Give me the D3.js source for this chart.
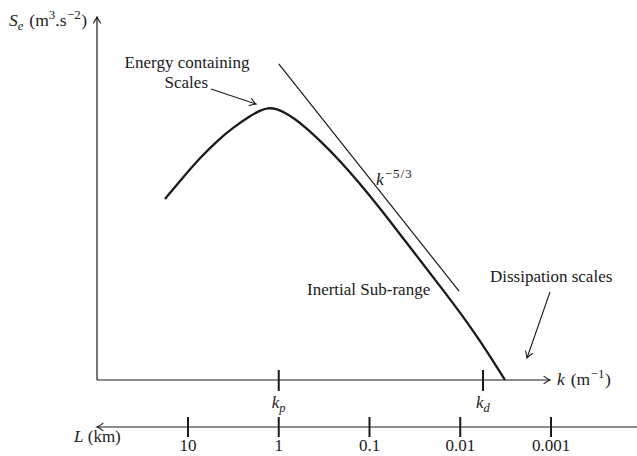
<!DOCTYPE html>
<html>
<head>
<meta charset="utf-8">
<script src="https://cdn.jsdelivr.net/npm/d3@7"></script>
<style>
  html, body { margin: 0; padding: 0; background: #fff; }
  svg { display: block; font-family: "Liberation Serif", "Times New Roman", serif; }
</style>
</head>
<body>
<svg id="chart" width="637" height="456"></svg>
<script>
// Schematic turbulent energy spectrum: wavenumber k (m^-1) against spectral energy S_e (arbitrary units)
const spectrumK = [5.58e-5, 8.81e-5, 1.356e-4, 2.088e-4, 3.131e-4, 4.821e-4, 6.21e-4, 7.61e-4,
                   9.33e-4, 1.172e-3, 1.511e-3, 1.947e-3, 2.848e-3, 4.73e-3, 7.86e-3, 1.305e-2,
                   2.168e-2, 3.601e-2, 5.98e-2, 9.94e-2, 0.1651, 0.2415, 0.3112];
const spectrumS = [50.3, 56.3, 61.7, 66.4, 70.1, 73.3, 74.9, 75.6,
                   75.4, 74.3, 72.5, 70.3, 66.5, 60.9, 54.5, 47.7,
                   40.5, 33.3, 26.1, 18.8, 10.9, 4.4, 0];

// Reference slope k^(-5/3), drawn as a straight guide
const slopeK = [1.0e-3, 9.7e-2];
const slopeS = [87.8, 24.7];

// Characteristic wavenumbers k_p and k_d
const markerSub = ["p", "d"];
const markerK = [1.0e-3, 0.178];

// Length scale axis (km), L = 1 / (1000 k)
const lengthTicks = [10, 1, 0.1, 0.01, 0.001];
const lengthTickLabels = ["10", "1", "0.1", "0.01", "0.001"];

const svg = d3.select("#chart");
const ink = "#1a1a1a";

const x = d3.scaleLog().domain([1e-4, 1]).range([188, 551]);
const y = d3.scaleLinear().domain([0, 100]).range([380, 20]);

const originX = 97, axisTipX = 550, axisTopY = 17, lengthAxisY = 427;

// open barbed arrowheads
const defs = svg.append("defs");
defs.append("marker")
  .attr("id", "arrow")
  .attr("viewBox", "-8 -5 10 10")
  .attr("refX", 0).attr("refY", 0)
  .attr("markerWidth", 10).attr("markerHeight", 10)
  .attr("markerUnits", "userSpaceOnUse")
  .attr("orient", "auto")
  .append("path")
  .attr("d", "M-6,-3.6 Q-2.2,-0.8 0,0 Q-2.2,0.8 -6,3.6")
  .attr("fill", "none")
  .attr("stroke", ink)
  .attr("stroke-width", 1.1)
  .attr("stroke-linecap", "round");

// rich text: parts = [{t, it, size, shift, dx, ls}] with shift measured upward from the baseline
function richText(px, py, parts, anchor) {
  const text = svg.append("text")
    .attr("x", px).attr("y", py)
    .attr("fill", ink)
    .attr("text-anchor", anchor || "start");
  let prev = 0;
  parts.forEach(p => {
    const s = p.shift || 0;
    text.append("tspan")
      .attr("dx", p.dx || 0)
      .attr("dy", prev - s)
      .attr("font-size", p.size || 17)
      .attr("font-style", p.it ? "italic" : "normal")
      .attr("letter-spacing", p.ls || 0)
      .text(p.t);
    prev = s;
  });
  return text;
}

// axes
const axes = svg.append("g").attr("stroke", ink).attr("stroke-width", 1.2).attr("fill", "none");
axes.append("line")
  .attr("x1", originX).attr("y1", y(0)).attr("x2", axisTipX).attr("y2", y(0))
  .attr("marker-end", "url(#arrow)");
axes.append("line")
  .attr("x1", originX).attr("y1", y(0)).attr("x2", originX).attr("y2", axisTopY)
  .attr("marker-end", "url(#arrow)");
axes.append("line")
  .attr("x1", 637).attr("y1", lengthAxisY).attr("x2", originX).attr("y2", lengthAxisY)
  .attr("marker-end", "url(#arrow)");

// k-axis ticks
svg.append("g").selectAll("line").data(markerK).join("line")
  .attr("x1", d => x(d)).attr("x2", d => x(d))
  .attr("y1", y(0) - 10).attr("y2", y(0) + 11)
  .attr("stroke", ink).attr("stroke-width", 2);
markerK.forEach((k, i) => {
  richText(x(k) - 7, 408, [
    { t: "k", it: true, size: 17 },
    { t: markerSub[i], it: true, size: 12.5, shift: -3.5 }
  ]);
});

// length axis ticks
const lengthX = L => x(1 / (1000 * L));
svg.append("g").selectAll("line").data(lengthTicks).join("line")
  .attr("x1", d => lengthX(d)).attr("x2", d => lengthX(d))
  .attr("y1", lengthAxisY - 10).attr("y2", lengthAxisY + 10)
  .attr("stroke", ink).attr("stroke-width", 2);
svg.append("g").selectAll("text").data(lengthTicks).join("text")
  .attr("x", d => lengthX(d)).attr("y", 451)
  .attr("text-anchor", "middle")
  .attr("font-size", 17)
  .attr("fill", ink)
  .text((d, i) => lengthTickLabels[i]);

// spectrum curve
const spectrum = spectrumK.map((k, i) => [k, spectrumS[i]]);
svg.append("path")
  .datum(spectrum)
  .attr("d", d3.line().x(d => x(d[0])).y(d => y(d[1])).curve(d3.curveBasis))
  .attr("fill", "none")
  .attr("stroke", ink)
  .attr("stroke-width", 2.3)
  .attr("stroke-linejoin", "round");

// k^-5/3 guide
const slope = slopeK.map((k, i) => [k, slopeS[i]]);
svg.append("path")
  .datum(slope)
  .attr("d", d3.line().x(d => x(d[0])).y(d => y(d[1])))
  .attr("fill", "none")
  .attr("stroke", ink)
  .attr("stroke-width", 1.2);

// axis titles
richText(9, 26, [
  { t: "S", it: true, size: 17.5 },
  { t: "e", it: true, size: 12.5, shift: -4 },
  { t: "(m", dx: 6, size: 17.5 },
  { t: "3", size: 13, shift: 7 },
  { t: ".s", size: 17.5 },
  { t: "\u22122", size: 13, shift: 7, dx: 0.5 },
  { t: ")", size: 17.5, dx: 0.5 }
]);
richText(557, 385, [
  { t: "k", it: true, size: 17.5 },
  { t: "(m", dx: 6, size: 17.5 },
  { t: "\u22121", size: 13, shift: 7, dx: 0.5 },
  { t: ")", size: 17.5, dx: 0.5 }
]);
richText(74, 442, [
  { t: "L", it: true },
  { t: " (km)" }
]);

// annotations
svg.append("text").attr("x", 187).attr("y", 68).attr("text-anchor", "middle")
  .attr("font-size", 17).attr("fill", ink).text("Energy containing");
svg.append("text").attr("x", 208).attr("y", 88).attr("text-anchor", "end")
  .attr("font-size", 17).attr("fill", ink).text("Scales");
svg.append("line")
  .attr("x1", 211).attr("y1", 89).attr("x2", 256).attr("y2", 104)
  .attr("stroke", ink).attr("stroke-width", 1.1)
  .attr("marker-end", "url(#arrow)");

richText(376, 185, [
  { t: "k", it: true, size: 17.5 },
  { t: "\u22125/3", size: 13, shift: 7, dx: 1, ls: 1 }
]);

svg.append("text").attr("x", 307).attr("y", 295)
  .attr("font-size", 17).attr("fill", ink).text("Inertial Sub-range");

svg.append("text").attr("x", 490).attr("y", 282)
  .attr("font-size", 17).attr("fill", ink).text("Dissipation scales");
svg.append("line")
  .attr("x1", 550).attr("y1", 292).attr("x2", 527).attr("y2", 358)
  .attr("stroke", ink).attr("stroke-width", 1.1)
  .attr("marker-end", "url(#arrow)");
</script>
</body>
</html>
